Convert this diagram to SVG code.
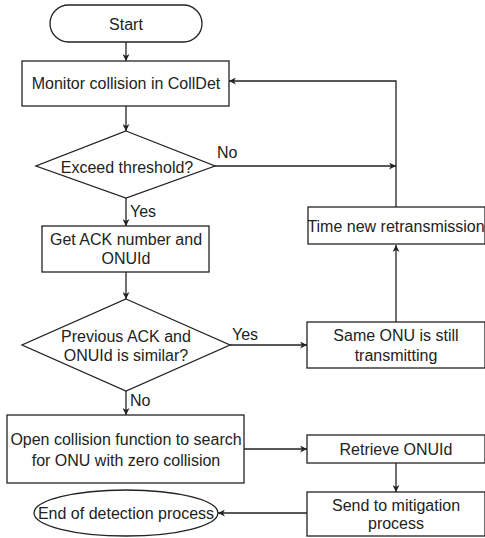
<svg xmlns="http://www.w3.org/2000/svg" width="485" height="538" viewBox="0 0 485 538">
  <style>
    .shape { fill: #ffffff; stroke: #222222; stroke-width: 1.3; }
    .edge { fill: none; stroke: #222222; stroke-width: 1.3; }
    text { font-family: "Liberation Sans", Arial, sans-serif; font-size: 16px; fill: #222222; text-anchor: middle; dominant-baseline: central; }
    .lbl { text-anchor: start; }
  </style>
  <defs>
    <marker id="arrow" viewBox="0 0 10 10" refX="10" refY="5" markerWidth="7" markerHeight="7" orient="auto" markerUnits="userSpaceOnUse">
      <path d="M0,0 L10,5 L0,10 L3,5 z" fill="#222222"/>
    </marker>
  </defs>
  <rect width="485" height="538" fill="#ffffff"/>

  <g id="connectors">
    <line class="edge" x1="126" y1="42" x2="126" y2="61" marker-end="url(#arrow)"/>
    <line class="edge" x1="126" y1="106" x2="126" y2="131" marker-end="url(#arrow)"/>
    <line class="edge" x1="215" y1="166" x2="396" y2="166" marker-end="url(#arrow)"/>
    <line class="edge" x1="126" y1="198" x2="126" y2="226" marker-end="url(#arrow)"/>
    <line class="edge" x1="126" y1="272" x2="126" y2="299" marker-end="url(#arrow)"/>
    <line class="edge" x1="230" y1="345" x2="307" y2="345" marker-end="url(#arrow)"/>
    <line class="edge" x1="396" y1="322" x2="396" y2="245" marker-end="url(#arrow)"/>
    <polyline class="edge" points="396,207 396,81 229,81" marker-end="url(#arrow)"/>
    <line class="edge" x1="126" y1="391" x2="126" y2="415" marker-end="url(#arrow)"/>
    <line class="edge" x1="244" y1="449" x2="307" y2="449" marker-end="url(#arrow)"/>
    <line class="edge" x1="396" y1="463" x2="396" y2="492" marker-end="url(#arrow)"/>
    <line class="edge" x1="307" y1="513" x2="218" y2="513" marker-end="url(#arrow)"/>
    <text class="lbl" x="217" y="152">No</text>
    <text class="lbl" x="130" y="211">Yes</text>
    <text class="lbl" x="232" y="334">Yes</text>
    <text class="lbl" x="130" y="400">No</text>
  </g>

  <g id="start">
    <rect class="shape" x="50" y="5" width="152" height="37" rx="18.5" ry="18.5"/>
    <text x="126" y="24">Start</text>
  </g>
  <g id="monitor">
    <rect class="shape" x="22" y="61" width="207" height="45"/>
    <text x="126" y="83">Monitor collision in CollDet</text>
  </g>
  <g id="threshold">
    <polygon class="shape" points="126,131 215,166 126,198 36,166"/>
    <text x="127" y="167">Exceed threshold?</text>
  </g>
  <g id="get-ack">
    <rect class="shape" x="42" y="226" width="167" height="46"/>
    <text x="126" y="239">Get ACK number and</text>
    <text x="126" y="258">ONUId</text>
  </g>
  <g id="similar">
    <polygon class="shape" points="126,299 230,345 126,391 22,345"/>
    <text x="126" y="336">Previous ACK and</text>
    <text x="126" y="355">ONUId is similar?</text>
  </g>
  <g id="time-retx">
    <rect class="shape" x="308" y="207" width="177" height="37"/>
    <text x="396" y="226">Time new retransmission</text>
  </g>
  <g id="same-onu">
    <rect class="shape" x="307" y="322" width="178" height="46"/>
    <text x="396" y="335">Same ONU is still</text>
    <text x="396" y="355">transmitting</text>
  </g>
  <g id="open-collision">
    <rect class="shape" x="7" y="415" width="237" height="68"/>
    <text x="126" y="439">Open collision function to search</text>
    <text x="126" y="460">for ONU with zero collision</text>
  </g>
  <g id="retrieve">
    <rect class="shape" x="307" y="435" width="178" height="28"/>
    <text x="396" y="449">Retrieve ONUId</text>
  </g>
  <g id="send">
    <rect class="shape" x="307" y="492" width="178" height="44"/>
    <text x="396" y="505">Send to mitigation</text>
    <text x="396" y="523">process</text>
  </g>
  <g id="end">
    <ellipse class="shape" cx="126" cy="513" rx="92" ry="23"/>
    <text x="126" y="513">End of detection process</text>
  </g>
</svg>
